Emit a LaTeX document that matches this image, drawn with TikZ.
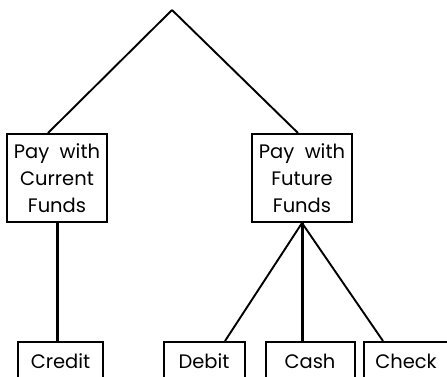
\documentclass[tikz,border=0pt]{standalone}
\usepackage{fontspec}
\setmainfont{Poppins}
\usetikzlibrary{positioning}

\begin{document}
\begin{tikzpicture}[%
    x=1pt, y=1pt,
    on grid,
    choice/.style={draw, line width=2pt, minimum width=100pt, minimum height=88pt, align=center, inner sep=2pt},
    leaf/.style={draw, line width=2pt, minimum width=85pt, minimum height=38pt, inner xsep=4pt},
    branch/.style={line width=1.9pt},
    trunk/.style={line width=3pt},
    font=\fontsize{19.5}{27}\selectfont
  ]
    \useasboundingbox (0,-376) rectangle (447,0);
    \coordinate (root) at (172,-10);
    \node[choice] (current) at (57,-178) {Pay\ \ with\\Current\\Funds};
    \node[choice] (future) [right=245pt of current] {Pay\ \ with\\Future\\Funds};
    \node[leaf] (credit) [below right=183pt and 3.5pt of current] {Credit};
    \node[leaf] (debit) [below left=183pt and 98pt of future, minimum width=81pt] {Debit};
    \node[leaf] (cash) [right=106pt of debit, minimum width=89pt] {Cash};
    \node[leaf] (check) [right=96pt of cash] {Check};

    \draw[branch] (root) -- ([xshift=-9pt]current.north);
    \draw[branch] (root) -- ([xshift=-4pt]future.north);
    \draw[trunk] (current.south) -- (current.south |- credit.north);
    \draw[branch] (future.south) -- ([xshift=21pt]debit.north);
    \draw[trunk] (future.south) -- (future.south |- cash.north);
    \draw[branch] (future.south) -- ([xshift=-23pt]check.north);
\end{tikzpicture}
\end{document}
